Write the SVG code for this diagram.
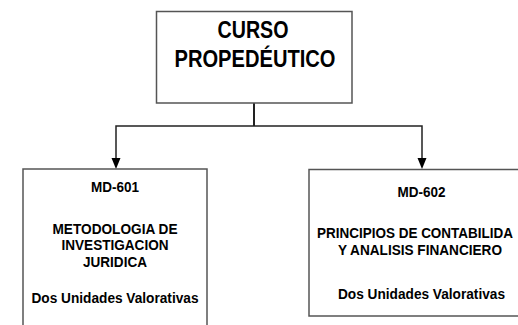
<svg xmlns="http://www.w3.org/2000/svg" width="518" height="325" viewBox="0 0 518 325">
<style>
.box{fill:#fff;stroke:#555;stroke-width:1.5}
.t{font-family:"Liberation Sans",Arial,sans-serif;font-weight:bold;fill:#000}
.s{font-size:14.5px;text-anchor:middle}
.title{font-size:23px;text-anchor:middle}
.c{fill:none;stroke:#222;stroke-width:1.5}
</style>
<rect width="518" height="325" fill="#fff"/>
<g id="connectors">
<line class="c" x1="254" y1="103" x2="254" y2="126" style="stroke-width:2"/>
<polyline class="c" points="116,160 116,126 422,126 422,160"/>
<path d="M111.5,158 L120.5,158 L116,169 Z" fill="#000"/>
<path d="M417.5,158 L426.5,158 L422,169 Z" fill="#000"/>
</g>
<g id="curso">
<rect class="box" x="156.5" y="11.5" width="195.5" height="91.5"/>
<text class="t title" x="253" y="37.5" textLength="71" lengthAdjust="spacingAndGlyphs">CURSO</text>
<text class="t title" x="255" y="66.5" textLength="161" lengthAdjust="spacingAndGlyphs">PROPEDÉUTICO</text>
</g>
<g id="md601">
<rect class="box" x="23" y="169" width="184" height="170"/>
<text class="t s" x="115" y="192" textLength="48" lengthAdjust="spacingAndGlyphs">MD-601</text>
<text class="t s" x="115" y="234" textLength="125" lengthAdjust="spacingAndGlyphs">METODOLOGIA DE</text>
<text class="t s" x="115" y="250" textLength="107" lengthAdjust="spacingAndGlyphs">INVESTIGACION</text>
<text class="t s" x="115" y="267" textLength="64" lengthAdjust="spacingAndGlyphs">JURIDICA</text>
<text class="t s" x="115" y="303" textLength="167" lengthAdjust="spacingAndGlyphs">Dos Unidades Valorativas</text>
</g>
<g id="md602">
<rect class="box" x="309" y="169.5" width="230" height="146.5"/>
<text class="t s" x="421.5" y="197" textLength="48" lengthAdjust="spacingAndGlyphs">MD-602</text>
<text class="t" style="font-size:14.5px" x="317" y="238" textLength="196" lengthAdjust="spacingAndGlyphs">PRINCIPIOS DE CONTABILIDA</text>
<text class="t s" x="420" y="255" textLength="164" lengthAdjust="spacingAndGlyphs">Y ANALISIS FINANCIERO</text>
<text class="t s" x="421.5" y="299" textLength="167" lengthAdjust="spacingAndGlyphs">Dos Unidades Valorativas</text>
</g>
</svg>
